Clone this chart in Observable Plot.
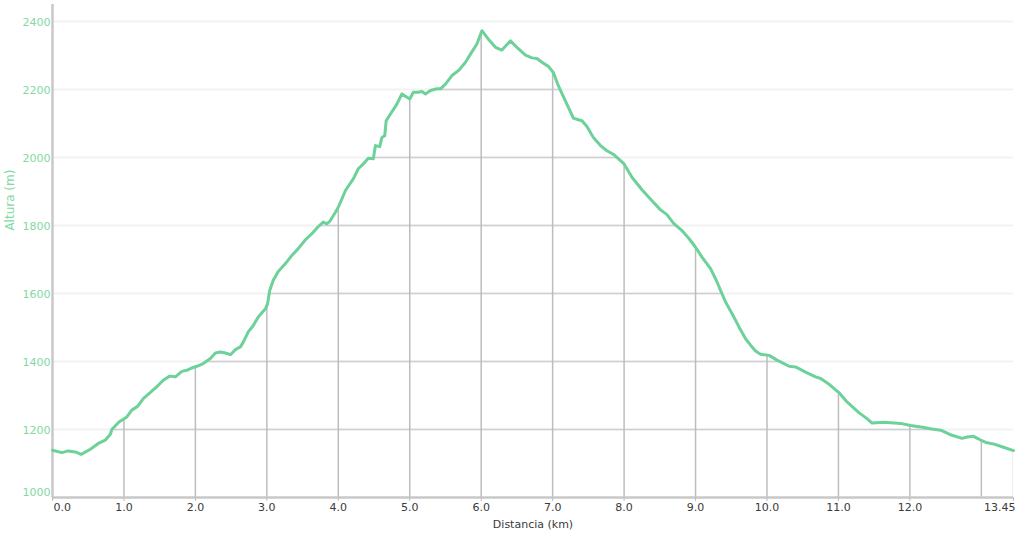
<!DOCTYPE html>
<html>
<head>
<meta charset="utf-8">
<script src="https://cdn.jsdelivr.net/npm/d3@7"></script>
<script src="https://cdn.jsdelivr.net/npm/@observablehq/plot@0.6"></script>
<style>
  html, body { margin: 0; padding: 0; background: #fff; }
  #chart svg { display: block; }
</style>
</head>
<body>
<div id="chart"></div>
<script>
// Distance along the track (km)
const dist = [0, 0.13, 0.22, 0.32, 0.40, 0.53, 0.64, 0.74, 0.81, 0.83, 0.93, 1.04, 1.11, 1.19, 1.27, 1.37, 1.48, 1.55, 1.64, 1.72, 1.81, 1.88, 1.95, 2.02, 2.11, 2.21, 2.28, 2.35, 2.42, 2.49, 2.56, 2.63, 2.67, 2.74, 2.81, 2.88, 2.98, 3.01, 3.04, 3.09, 3.16, 3.26, 3.35, 3.44, 3.54, 3.63, 3.72, 3.79, 3.84, 3.88, 3.96, 4.00, 4.05, 4.10, 4.21, 4.28, 4.35, 4.42, 4.49, 4.52, 4.58, 4.61, 4.65, 4.67, 4.73, 4.82, 4.89, 5.00, 5.05, 5.12, 5.17, 5.22, 5.29, 5.38, 5.43, 5.50, 5.59, 5.69, 5.78, 5.85, 5.94, 6.01, 6.10, 6.20, 6.29, 6.41, 6.50, 6.62, 6.71, 6.78, 6.85, 6.94, 7.01, 7.07, 7.15, 7.23, 7.29, 7.36, 7.41, 7.48, 7.57, 7.67, 7.76, 7.86, 8.00, 8.11, 8.25, 8.39, 8.51, 8.60, 8.69, 8.81, 8.91, 9.00, 9.09, 9.21, 9.29, 9.35, 9.42, 9.51, 9.61, 9.70, 9.77, 9.84, 9.91, 10.03, 10.14, 10.19, 10.31, 10.40, 10.54, 10.68, 10.75, 10.87, 11.01, 11.12, 11.29, 11.40, 11.47, 11.64, 11.87, 12.01, 12.20, 12.29, 12.43, 12.59, 12.73, 12.80, 12.89, 12.99, 13.08, 13.18, 13.32, 13.45];
// Elevation (m)
const altura = [1139, 1132, 1137, 1134, 1127, 1142, 1159, 1169, 1186, 1200, 1222, 1237, 1257, 1268, 1291, 1309, 1330, 1345, 1357, 1355, 1371, 1374, 1381, 1386, 1394, 1409, 1425, 1428, 1425, 1420, 1435, 1443, 1457, 1487, 1506, 1531, 1555, 1570, 1609, 1639, 1665, 1688, 1712, 1732, 1758, 1776, 1797, 1810, 1805, 1812, 1839, 1854, 1878, 1903, 1937, 1967, 1981, 1998, 1996, 2035, 2032, 2059, 2064, 2108, 2128, 2157, 2187, 2172, 2192, 2192, 2194, 2187, 2197, 2202, 2202, 2216, 2241, 2257, 2280, 2304, 2334, 2373, 2348, 2324, 2316, 2343, 2324, 2301, 2293, 2291, 2280, 2268, 2250, 2216, 2179, 2143, 2116, 2111, 2108, 2091, 2059, 2035, 2020, 2008, 1981, 1942, 1905, 1873, 1846, 1832, 1807, 1785, 1761, 1736, 1707, 1673, 1639, 1609, 1575, 1541, 1501, 1467, 1448, 1431, 1421, 1418, 1404, 1399, 1386, 1384, 1369, 1355, 1350, 1333, 1308, 1281, 1249, 1232, 1219, 1221, 1218, 1212, 1206, 1202, 1198, 1183, 1174, 1178, 1180, 1169, 1161, 1157, 1147, 1138];

const yTicks = [1000, 1200, 1400, 1600, 1800, 2000, 2200, 2400];
const xGrid = [1, 2, 3, 4, 5, 6, 7, 8, 9, 10, 11, 12, 13, 13.45];
const xTicks = [0, 1, 2, 3, 4, 5, 6, 7, 8, 9, 10, 11, 12, 13.45];
const xLabelsMid = [1, 2, 3, 4, 5, 6, 7, 8, 9, 10, 11, 12];
const xLabelFirst = [0];
const xLabelLast = [13.45];
const xTitle = "Distancia (km)";
const yTitle = "Altura (m)";

const data = dist.map((d, i) => ({km: d, alt: altura[i]}));
const gridY = yTicks.filter(d => d > 1000);
const green = "#6dd19a";
const labelGreen = "#7fd9a2";

const plot = Plot.plot({
  width: 1019,
  height: 537,
  marginLeft: 52,
  marginRight: 6,
  marginTop: 4,
  marginBottom: 40,
  style: {fontFamily: "DejaVu Sans, Verdana, sans-serif", fontSize: "11px", background: "#fff"},
  x: {domain: [0, 13.45]},
  y: {domain: [1000, 2450], axis: null},
  marks: [
    // light grid (above the curve)
    Plot.ruleY(gridY, {y: d => d, stroke: "#f2f2f2", strokeWidth: 2}),
    // darker grid (visible below the curve, clipped later)
    Plot.ruleY(gridY, {y: d => d, stroke: "#cfcfcf", strokeWidth: 1.5, ariaLabel: () => "dark-h"}),
    Plot.ruleX(xGrid, {x: d => d, stroke: "#bdbdbd", strokeWidth: 1.5, ariaLabel: () => "dark-v"}),
    // axis lines
    Plot.ruleX([0], {x: d => d, stroke: "#c8c8c8", strokeWidth: 2.5}),
    Plot.ruleY([1000], {y: d => d, stroke: "#c8c8c8", strokeWidth: 2.5}),
    Plot.axisX(xTicks, {tickSize: 4, tickFormat: () => "", stroke: "#bdbdbd", label: null}),
    // x tick labels
    Plot.text(xLabelsMid, {x: d => d, frameAnchor: "bottom", dy: 13, text: d => d.toFixed(1), fill: "#3a3a3a", fontSize: 11}),
    Plot.text(xLabelFirst, {x: d => d, frameAnchor: "bottom", dy: 13, dx: 1, textAnchor: "start", text: d => d.toFixed(1), fill: "#3a3a3a", fontSize: 11}),
    Plot.text(xLabelLast, {x: d => d, frameAnchor: "bottom", dy: 13, dx: 2, textAnchor: "end", text: d => String(d), fill: "#3a3a3a", fontSize: 11}),
    Plot.text([xTitle], {frameAnchor: "bottom", dy: 30, text: d => d, fill: "#3a3a3a", fontSize: 11}),
    // y tick labels
    Plot.text(gridY, {y: d => d, frameAnchor: "left", dx: -2, dy: 1, textAnchor: "end", text: d => String(d), fill: labelGreen, fontSize: 11}),
    Plot.text([1000], {y: d => d, frameAnchor: "left", dx: -2, dy: -5, textAnchor: "end", text: d => String(d), fill: labelGreen, fontSize: 11}),
    Plot.text([yTitle], {y: () => 1785, frameAnchor: "left", dx: -42, rotate: -90, text: d => d, fill: labelGreen, fontSize: 12}),
    // profile line
    Plot.line(data, {x: "km", y: "alt", stroke: green, strokeWidth: 3, strokeLinejoin: "round"})
  ]
});

// clip the darker grid to the area under the profile
const xs = plot.scale("x"), ys = plot.scale("y");
const areaD = d3.area()
  .x(d => xs.apply(d.km))
  .y0(ys.apply(1000))
  .y1(d => ys.apply(d.alt))(data);
const ns = "http://www.w3.org/2000/svg";
const defs = document.createElementNS(ns, "defs");
const cp = document.createElementNS(ns, "clipPath");
cp.setAttribute("id", "under-curve");
cp.setAttribute("clipPathUnits", "userSpaceOnUse");
const cpPath = document.createElementNS(ns, "path");
cpPath.setAttribute("d", areaD);
cp.appendChild(cpPath);
defs.appendChild(cp);
plot.insertBefore(defs, plot.firstChild);
const groups = new Set();
plot.querySelectorAll('[aria-label="dark-h"], [aria-label="dark-v"]').forEach(el => groups.add(el.parentNode));
groups.forEach(g => {
  const wrap = document.createElementNS(ns, "g");
  wrap.setAttribute("clip-path", "url(#under-curve)");
  g.parentNode.insertBefore(wrap, g);
  wrap.appendChild(g);
});

document.getElementById("chart").appendChild(plot);
</script>
</body>
</html>
